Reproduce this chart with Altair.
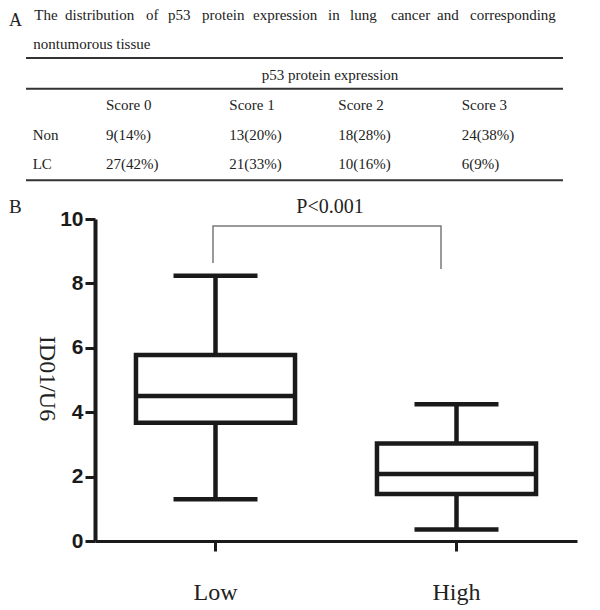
import altair as alt
import pandas as pd

# ---------------- data: panel A (table) ----------------
title_words = ["The", "distribution", "of", "p53", "protein", "expression",
               "in", "lung", "cancer", "and", "corresponding"]
title_line2 = "nontumorous tissue"
header_text = "p53 protein expression"
score_labels = ["Score 0", "Score 1", "Score 2", "Score 3"]
row_labels = ["Non", "LC"]
non_counts = [9, 13, 18, 24]
non_pcts = [14, 20, 28, 38]
lc_counts = [27, 21, 10, 6]
lc_pcts = [42, 33, 16, 9]

# ---------------- data: panel B (box plot) ----------------
groups = ["Low", "High"]
whisker_low = [1.30, 0.36]
q1 = [3.67, 1.46]
median = [4.50, 2.08]
q3 = [5.78, 3.03]
whisker_high = [8.24, 4.245]
p_text = "P<0.001"
bracket_top = 9.78
bracket_left_end = 8.63
bracket_right_end = 8.45

# ---------------- layout (pixels, image coordinates) ----------------
OX, OY = 95, 219  # plot-area origin
TABLE_SHIFT = 7   # keep panel A inside the drawable area


def px(x):
    return x - OX


def py(y):
    return y - OY


def ty(y):
    return y - OY + TABLE_SHIFT


L = dict(
    word_x=[34.3, 65, 146, 168, 202, 253, 328, 350, 391, 437, 470],
    line1_y=12.5,
    line2_x=33.3, line2_y=42,
    header_x=261.7, header_y=72.7,
    score_x=[106, 229.3, 338.3, 461.7], score_y=102.5,
    row_x=32.7, row_y=[133, 162],
    rule_y=[51, 81.7, 173.3], rule_x0=26, rule_x1=563,
    bracket_x=[213, 441],
    a_x=9, a_y=18.5, b_x=9, b_y=213,
    p_x=330, p_y=213,
)

SERIF = "Liberation Serif"
INK = "#1a1a1a"
TXT = "#222222"

# ---------------- table texts ----------------
rows = []
for w, x in zip(title_words, L["word_x"]):
    rows.append({"text": w, "px": px(x), "py": ty(L["line1_y"])})
rows.append({"text": title_line2, "px": px(L["line2_x"]), "py": ty(L["line2_y"])})
rows.append({"text": header_text, "px": px(L["header_x"]), "py": ty(L["header_y"])})
for s, x in zip(score_labels, L["score_x"]):
    rows.append({"text": s, "px": px(x), "py": ty(L["score_y"])})
for r, (cnts, pcts), y in zip(row_labels, [(non_counts, non_pcts), (lc_counts, lc_pcts)], L["row_y"]):
    rows.append({"text": r, "px": px(L["row_x"]), "py": ty(y)})
    for c, p, x in zip(cnts, pcts, L["score_x"]):
        rows.append({"text": f"{c}({p}%)", "px": px(x), "py": ty(y)})
table_df = pd.DataFrame(rows)

rules_df = pd.DataFrame({
    "px": [px(L["rule_x0"])] * 3,
    "px2": [px(L["rule_x1"])] * 3,
    "py": [ty(y) for y in L["rule_y"]],
})

table_text = alt.Chart(table_df).mark_text(
    align="left", baseline="alphabetic", font=SERIF, fontSize=15, color=TXT
).encode(
    x=alt.X("px:Q", scale=None, axis=None),
    y=alt.Y("py:Q", scale=None, axis=None),
    text="text:N",
)

table_rules = alt.Chart(rules_df).mark_rule(color="#333333", strokeWidth=2).encode(
    x=alt.X("px:Q", scale=None, axis=None),
    x2="px2:Q",
    y=alt.Y("py:Q", scale=None, axis=None),
)

label_a = alt.Chart(pd.DataFrame({"t": ["A"]})).mark_text(
    align="left", baseline="alphabetic", font=SERIF, fontSize=18, color=TXT
).encode(x=alt.value(px(L["a_x"])), y=alt.value(ty(L["a_y"])), text="t:N")

label_b = alt.Chart(pd.DataFrame({"t": ["B"]})).mark_text(
    align="left", baseline="alphabetic", font=SERIF, fontSize=19, color=TXT
).encode(x=alt.value(px(L["b_x"])), y=alt.value(py(L["b_y"])), text="t:N")

p_label = alt.Chart(pd.DataFrame({"t": [p_text]})).mark_text(
    align="center", baseline="alphabetic", font=SERIF, fontSize=20, color=TXT
).encode(x=alt.value(px(L["p_x"])), y=alt.value(py(L["p_y"])), text="t:N")

# ---------------- box plot ----------------
box_df = pd.DataFrame({
    "group": groups, "lo": whisker_low, "q1": q1, "med": median, "q3": q3, "hi": whisker_high,
})

YT = "ID01/U6"
xenc = alt.X("group:N", sort=groups, title=None,
             scale=alt.Scale(domain=groups, paddingInner=0, paddingOuter=0))
yscale = alt.Scale(domain=[0, 10], nice=False)

base = alt.Chart(box_df)

whisk_lo = base.mark_rule(color=INK, strokeWidth=4.5, opacity=1).encode(
    x=xenc, y=alt.Y("lo:Q", scale=yscale, title=YT), y2="q1:Q")
whisk_hi = base.mark_rule(color=INK, strokeWidth=4.5, opacity=1).encode(
    x=xenc, y=alt.Y("q3:Q", scale=yscale, title=YT), y2="hi:Q")
box = base.mark_bar(fill="white", stroke=INK, strokeWidth=4.5, opacity=1,
                    width=alt.RelativeBandSize(0.66)).encode(
    x=xenc, y=alt.Y("q1:Q", scale=yscale, title=YT), y2="q3:Q")
med = base.mark_tick(color=INK, size=159, thickness=4.5, opacity=1).encode(
    x=xenc, y=alt.Y("med:Q", scale=yscale, title=YT))
cap_lo = base.mark_tick(color=INK, size=84, thickness=4.5, opacity=1).encode(
    x=xenc, y=alt.Y("lo:Q", scale=yscale, title=YT))
cap_hi = base.mark_tick(color=INK, size=84, thickness=4.5, opacity=1).encode(
    x=xenc, y=alt.Y("hi:Q", scale=yscale, title=YT))

bracket_df = pd.DataFrame({
    "px": [px(L["bracket_x"][0]), px(L["bracket_x"][0]), px(L["bracket_x"][1]), px(L["bracket_x"][1])],
    "val": [bracket_left_end, bracket_top, bracket_top, bracket_right_end],
    "ord": [0, 1, 2, 3],
})
bracket = alt.Chart(bracket_df).mark_line(color="#7a7a7a", strokeWidth=1.5).encode(
    x=alt.X("px:Q", scale=None, axis=None),
    y=alt.Y("val:Q", scale=yscale, title=YT),
    order="ord:Q",
)

chart = alt.layer(
    whisk_lo, whisk_hi, box, med, cap_lo, cap_hi, bracket,
    table_rules, table_text, label_a, label_b, p_label,
).properties(
    width=482, height=322,
    autosize=alt.AutoSizeParams(type="none"),
    padding={"left": 87, "top": 211, "right": 8, "bottom": 68},
).configure_view(stroke=None).configure_axis(
    grid=False,
).configure_axisY(
    domainColor=INK, domainWidth=4, tickColor=INK, tickWidth=3, tickSize=10,
    tickCount=5, labelFont="Liberation Sans", labelFontWeight="bold", labelFontSize=21,
    labelColor=INK, labelPadding=2,
    titleFont=SERIF, titleFontSize=24, titleFontWeight="normal", titleColor=TXT,
    titleAngle=90, titleX=-49, titleY=159, titleAlign="center", titleBaseline="middle",
).configure_axisX(
    domainColor=INK, domainWidth=3, tickColor=INK, tickWidth=3, tickSize=10,
    labelFont=SERIF, labelFontSize=24, labelColor=TXT, labelPadding=29, labelAngle=0,
)

chart.save("out.html", embed_options={"renderer": "svg", "actions": False})
